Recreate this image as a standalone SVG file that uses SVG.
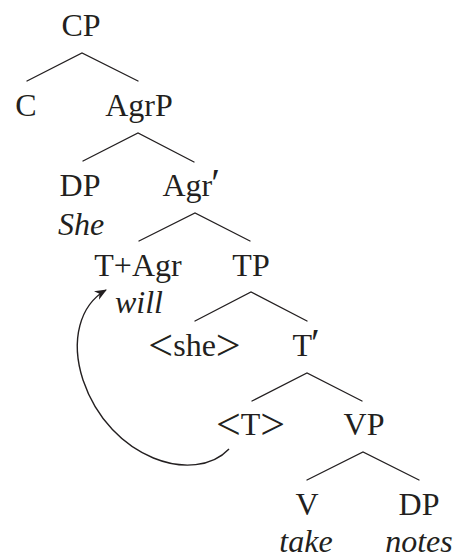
<svg xmlns="http://www.w3.org/2000/svg" width="463" height="558" viewBox="0 0 463 558">
  <style>
    text { font-family: 'Liberation Serif', 'Times New Roman', Times, 'DejaVu Serif', serif; }
    .lbl { font-size: 32px; fill: #231f20; text-anchor: middle; }
    .start { text-anchor: start; }
    .it { font-style: italic; }
    .br { font-size: 44px; }
    .prime { font-size: 40px; }
    .branch { stroke: #231f20; stroke-width: 1.3; fill: none; stroke-linecap: round; }
    .move { stroke: #231f20; stroke-width: 1.4; fill: none; }
  </style>
  <defs>
    <marker id="head" viewBox="0 0 12 10" refX="11" refY="5" markerWidth="12" markerHeight="10" markerUnits="userSpaceOnUse" orient="auto">
      <path d="M0,0 L12,5 L0,10 L3.5,5 Z" fill="#231f20"/>
    </marker>
  </defs>

  <g id="connectors">
    <path class="branch" d="M27,81 L82,53 L138,81"/>
    <path class="branch" d="M83,161 L138,133 L194,162"/>
    <path class="branch" d="M139,241 L195,213 L250,241"/>
    <path class="branch" d="M195,321 L251,292 L307,321"/>
    <path class="branch" d="M252,401 L307,373 L362,401"/>
    <path class="branch" d="M307,480 L363,452 L419,480"/>
    <path id="movement" class="move" d="M229,449 C195,485 110,460 83,380 C70,340 80,305 106,290" marker-end="url(#head)"/>
  </g>

  <g id="CP"><text class="lbl" x="81" y="36">CP</text></g>
  <g id="C"><text class="lbl" x="26" y="116">C</text></g>
  <g id="AgrP"><text class="lbl" x="139" y="116">AgrP</text></g>
  <g id="DP-she">
    <text class="lbl" x="80" y="196">DP</text>
    <text class="lbl it" x="81" y="235">She</text>
  </g>
  <g id="AgrBar"><text class="lbl start" x="162.5" y="196">Agr<tspan class="prime" dx="-1">′</tspan></text></g>
  <g id="TAgr">
    <text class="lbl" x="138" y="276">T+Agr</text>
    <text class="lbl it" x="139" y="313">will</text>
  </g>
  <g id="TP"><text class="lbl" x="251" y="276">TP</text></g>
  <g id="she-trace"><text class="lbl" x="194.5" y="356"><tspan class="br" dy="4">&lt;</tspan><tspan dy="-4">she</tspan><tspan class="br" dy="4">&gt;</tspan></text></g>
  <g id="TBar"><text class="lbl start" x="292.5" y="356">T<tspan class="prime" dx="-1">′</tspan></text></g>
  <g id="T-trace"><text class="lbl" x="250.5" y="435"><tspan class="br" dy="4">&lt;</tspan><tspan dy="-4">T</tspan><tspan class="br" dy="4">&gt;</tspan></text></g>
  <g id="VP"><text class="lbl" x="364" y="435">VP</text></g>
  <g id="V">
    <text class="lbl" x="307" y="515">V</text>
    <text class="lbl it" x="306" y="552">take</text>
  </g>
  <g id="DP-notes">
    <text class="lbl" x="419" y="515">DP</text>
    <text class="lbl it" x="419" y="552">notes</text>
  </g>
</svg>
